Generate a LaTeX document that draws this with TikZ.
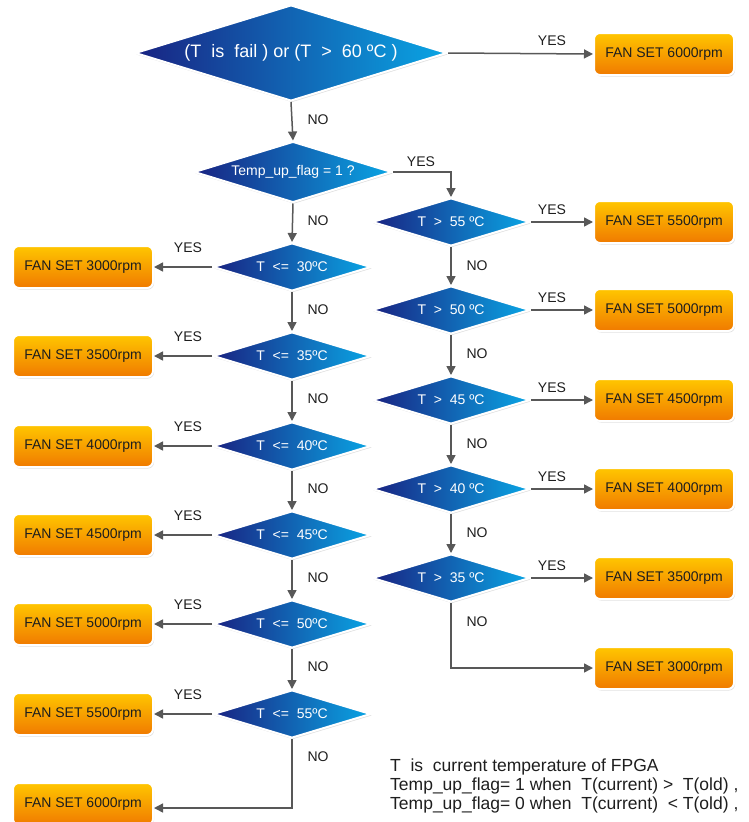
\documentclass[tikz,border=0pt]{standalone}
\usepackage{fontspec}
\setmainfont{Liberation Sans}
\usetikzlibrary{shapes.geometric,arrows.meta,shadows}
\definecolor{dleft}{RGB}{25,35,130}
\definecolor{dright}{RGB}{10,165,228}
\definecolor{btop}{RGB}{255,198,0}
\definecolor{bbot}{RGB}{240,122,0}
\definecolor{conn}{RGB}{88,88,88}
\definecolor{lbl}{RGB}{30,30,30}
\tikzset{
  dec/.style={diamond, inner sep=0pt, aspect=3.3, draw=white, line width=2pt,
    left color=dleft, right color=dright, text=white, font=\fontsize{14}{16}\selectfont,
    minimum width=158pt, minimum height=48pt,
    drop shadow={opacity=0.25, shadow xshift=1pt, shadow yshift=-1.5pt}},
  fanbox/.style={rectangle, rounded corners=6pt, draw=white, line width=2pt,
    top color=btop, bottom color=bbot, text=lbl, font=\fontsize{14}{16}\selectfont,
    minimum width=140pt, minimum height=42pt, inner sep=0pt,
    drop shadow={opacity=0.25, shadow xshift=1pt, shadow yshift=-1.5pt}},
  conn/.style={draw=conn, line width=1.5pt, -{Triangle[length=9pt,width=9pt]}},
  lab/.style={text=lbl, font=\fontsize{14}{16}\selectfont, inner sep=0pt},
}
\begin{document}
\begin{tikzpicture}[x=1pt,y=-1pt]
\useasboundingbox (0,0) rectangle (748,822);
% top decision
\node[dec, minimum width=312pt, minimum height=96pt, font=\fontsize{18}{20}\selectfont] (d0) at (291,53) {(T~~is~~fail~) or (T~~>~~60~ºC~)};
\node[fanbox] (b0) at (664,54) {FAN SET 6000rpm};
\node[dec, minimum width=198pt, minimum height=61pt] (df) at (293,172) {Temp\_up\_flag = 1 ?};
% left column
\node[dec] (l1) at (292,267) {T~~<=~~30ºC};
\node[dec] (l2) at (292,356) {T~~<=~~35ºC};
\node[dec] (l3) at (292,446) {T~~<=~~40ºC};
\node[dec] (l4) at (292,535) {T~~<=~~45ºC};
\node[dec] (l5) at (292,624) {T~~<=~~50ºC};
\node[dec] (l6) at (292,714) {T~~<=~~55ºC};
\node[fanbox] (lb1) at (83,267) {FAN SET 3000rpm};
\node[fanbox] (lb2) at (83,356) {FAN SET 3500rpm};
\node[fanbox] (lb3) at (83,446) {FAN SET 4000rpm};
\node[fanbox] (lb4) at (83,535) {FAN SET 4500rpm};
\node[fanbox] (lb5) at (83,624) {FAN SET 5000rpm};
\node[fanbox] (lb6) at (83,714) {FAN SET 5500rpm};
\node[fanbox] (lb7) at (83,804) {FAN SET 6000rpm};
% right column
\node[dec] (r1) at (451,222) {T~~>~~55~ºC};
\node[dec] (r2) at (451,310) {T~~>~~50~ºC};
\node[dec] (r3) at (451,400) {T~~>~~45~ºC};
\node[dec] (r4) at (451,489) {T~~>~~40~ºC};
\node[dec] (r5) at (451,578) {T~~>~~35~ºC};
\node[fanbox] (rb1) at (664,222) {FAN SET 5500rpm};
\node[fanbox] (rb2) at (664,310) {FAN SET 5000rpm};
\node[fanbox] (rb3) at (664,400) {FAN SET 4500rpm};
\node[fanbox] (rb4) at (664,489) {FAN SET 4000rpm};
\node[fanbox] (rb5) at (664,578) {FAN SET 3500rpm};
\node[fanbox] (rb6) at (664,668) {FAN SET 3000rpm};
% connectors
\draw[conn] (d0.east) -- (b0.west);
\draw[conn] (d0.south) -- (df.north);
\draw[conn] (df.east) -| (r1.north);
\draw[conn] (df.south) -- (l1.north);
\foreach \i/\j in {1/2,2/3,3/4,4/5,5/6} {
  \draw[conn] (l\i.south) -- (l\j.north);
}
\foreach \i in {1,...,6} {
  \draw[conn] (l\i.west) -- (lb\i.east);
}
\draw[conn] (l6.south) |- ([yshift=-4pt]lb7.east);
\foreach \i/\j in {1/2,2/3,3/4,4/5} {
  \draw[conn] (r\i.south) -- (r\j.north);
}
\foreach \i in {1,...,5} {
  \draw[conn] (r\i.east) -- (rb\i.west);
}
\draw[conn] (r5.south) |- (rb6.west);
% labels
\node[lab] (y0) at (552,41) {YES};
\node[lab] (n0) at (318,120) {NO};
\node[lab] (yf) at (421,162) {YES};
\node[lab] (nf) at (318,221) {NO};
\foreach \y [count=\k] in {267,356,446,535,624,714} {
  \node[lab] (yl\k) at (188,\y-19) {YES};
  \node[lab] (nl\k) at (318,\y+43) {NO};
}
\foreach \y [count=\k] in {222,310,400,489,578} {
  \node[lab] (yr\k) at (552,\y-12) {YES};
  \node[lab] (nr\k) at (477,\y+44) {NO};
}
% note
\node[lab, anchor=west, align=left, font=\fontsize{17.5}{19}\selectfont] (note) at (390,786)
  {T~~is~~current temperature of FPGA\\Temp\_up\_flag= 1 when~~T(current) >~~T(old) ,\\Temp\_up\_flag= 0 when~~T(current)~~< T(old) ,};
\end{tikzpicture}
\end{document}
